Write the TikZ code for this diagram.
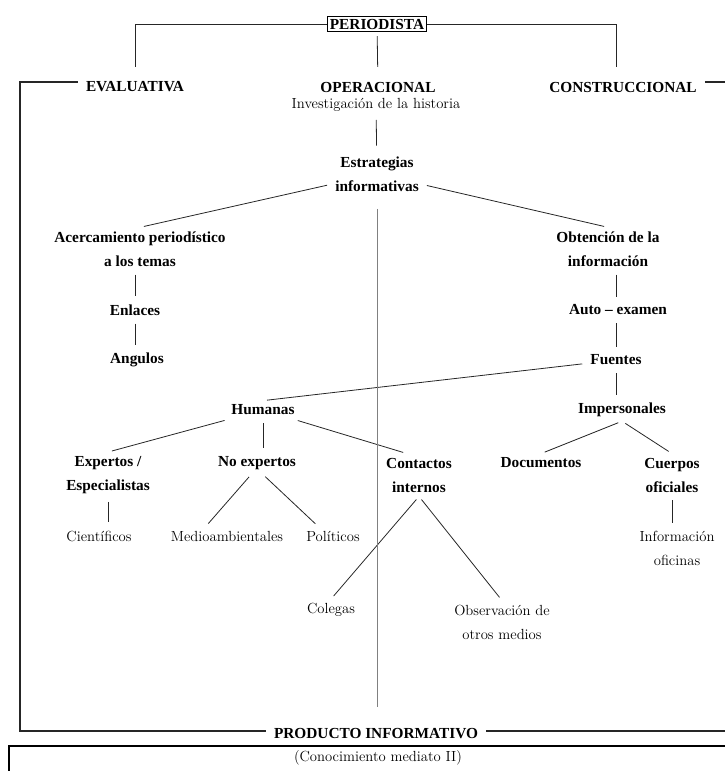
\documentclass[tikz,border=0pt]{standalone}
\usepackage{fontspec}
\newfontfamily\termfont{Liberation Serif}

\begin{document}
\begin{tikzpicture}[
  x=0.75pt, y=-0.75pt,
  term/.style={font=\termfont\bfseries\fontsize{11.5}{18}\selectfont, align=center, inner sep=3pt},
  leaf/.style={font=\fontsize{11}{18}\selectfont, align=center, inner sep=3pt},
  link/.style={draw=black!85, line width=0.6pt, shorten <=3pt, shorten >=3pt},
  frame/.style={draw=black!85, line width=0.8pt},
  axisline/.style={draw=black!50, line width=0.5pt}
]
\useasboundingbox (0,0) rectangle (725,771);

% top of the tree
\node[term, draw, line width=0.6pt, inner sep=2pt] (peri) at (377,24) {PERIODISTA};
\node[term] (eval) at (135,87) {EVALUATIVA};
\node[term] (oper) at (378,87) {OPERACIONAL};
\node[leaf] (inv) at (376,105) {Investigación de la historia};
\node[term] (cons) at (623,87) {CONSTRUCCIONAL};

\node[term] (estr) at (377,174) {Estrategias\\informativas};
\node[term] (acerc) at (140,249) {Acercamiento periodístico\\a los temas};
\node[term] (obt) at (608,249) {Obtención de la\\información};
\node[term] (enl) at (135,310) {Enlaces};
\node[term] (auto) at (618,310) {Auto – examen};
\node[term] (ang) at (137,360) {Angulos};
\node[term] (fuen) at (616,360) {Fuentes};

% sources
\node[term] (hum) at (263,410) {Humanas};
\node[term] (imp) at (622,410) {Impersonales};
\node[term] (exp) at (108,475) {Expertos /\\Especialistas};
\node[term] (noexp) at (257,463) {No expertos};
\node[term] (cont) at (419,475) {Contactos\\internos};
\node[term] (doc) at (541,463) {Documentos};
\node[term] (cuer) at (672,475) {Cuerpos\\oficiales};

\node[leaf] (cien) at (99,536) {Científicos};
\node[leaf] (medio) at (227,536) {Medioambientales};
\node[leaf] (poli) at (333,536) {Políticos};
\node[leaf] (infof) at (677,548) {Información\\oficinas};
\node[leaf] (coleg) at (331,610) {Colegas};
\node[leaf] (obs) at (502,622) {Observación de\\otros medios};

% bottom
\node[term] (prod) at (376,734) {PRODUCTO INFORMATIVO};
\node[leaf] (conoc) at (378,758) {(Conocimiento mediato II)};

\coordinate (ftl) at (20,82);
\coordinate (fbl) at (20,731);
\coordinate (ftr) at (725,82);
\coordinate (fbr) at (725,731);
\coordinate (bbl) at (9,746);
\coordinate (bbr) at (725,746);
\coordinate (bbb) at (9,771);

% connectors
\draw[link, shorten <=0pt, shorten >=8pt] (peri) -| (eval);
\draw[link, shorten <=0pt, shorten >=8pt] (peri) -| ([xshift=-5.25pt]cons.north);
\draw[link, shorten >=8pt] (peri) -- (oper);
\draw[link, shorten >=5pt] (inv) -- (estr);

\draw[link] (estr) -- (acerc.north);
\draw[link] (estr) -- (obt.north);
\draw[link] (acerc.south -| enl) -- (enl);
\draw[link] (enl) -- (enl |- ang.north);
\draw[link] (obt.south -| fuen) -- (auto.north -| fuen);
\draw[link] (auto.south -| fuen) -- (fuen);
\draw[link] (fuen) -- (fuen |- imp.north);
\draw[link] (fuen) -- (hum.north);

\draw[link] (hum) -- (exp.north);
\draw[link] (hum) -- (hum |- noexp.north);
\draw[link] (hum) -- ([xshift=-9pt]cont.north);
\draw[link] (imp.south) -- (doc.north);
\draw[link] (imp.south) -- (cuer.north);
\draw[link] (exp) -- (exp |- cien.north);
\draw[link] ([xshift=-4pt]noexp.south) -- ([xshift=-16pt]medio.north);
\draw[link] ([xshift=4pt]noexp.south) -- ([xshift=-11pt]poli.north);
\draw[link] (cont.south) -- (coleg.north);
\draw[link] (cont.south) -- (obs.north);
\draw[link] (cuer) -- (cuer |- infof.north);

\draw[axisline, shorten <=10pt, shorten >=13pt] (estr.south) -- (estr.south |- prod.north);

% frame
\draw[frame, shorten <=3pt, shorten >=3pt] (eval.west |- ftl) -- (ftl) -- (fbl) -- (prod.west |- fbl);
\draw[frame, shorten <=3pt] (cons.east |- ftr) -- (ftr);
\draw[frame, shorten <=3pt] (prod.east |- fbr) -- (fbr);
\draw[line width=1pt] (bbb) -- (bbl) -- (bbr);
\end{tikzpicture}
\end{document}
